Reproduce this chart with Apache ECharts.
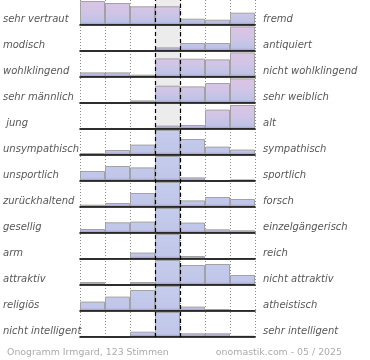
<!DOCTYPE html>
<html>
<head>
<meta charset="utf-8">
<style>html,body{margin:0;padding:0;background:#fff;}#c{width:370px;height:360px;}</style>
<script src="https://cdn.jsdelivr.net/npm/echarts@6/dist/echarts.min.js"></script>
</head>
<body>
<div id="c"></div>
<script>
const columns = ['1','2','3','4','5','6','7'];
const leftLabels = ['sehr vertraut','modisch','wohlklingend','sehr männlich',' jung','unsympathisch','unsportlich','zurückhaltend','gesellig','arm','attraktiv','religiös','nicht intelligent'];
const rightLabels = ['fremd','antiquiert','nicht wohlklingend','sehr weiblich','alt','sympathisch','sportlich','forsch','einzelgängerisch','reich','nicht attraktiv','atheistisch','sehr intelligent'];

const rowVertraut     = [24, 22, 18.7, 18.7, 6.3, 5.3, 12.3];
const rowModisch      = [0, 0, 0, 3.6, 8, 8, 24.6];
const rowWohlklingend = [4.6, 4.6, 2.3, 18.6, 18.3, 17.6, 24.6];
const rowMaennlich    = [0, 0, 2.6, 17.3, 16.6, 20, 24.6];
const rowJung         = [0, 0, 0, 3.4, 4, 19.4, 24];
const rowSympathisch  = [2, 5, 10.4, 25, 16, 8.4, 5.4];
const rowSportlich    = [10, 15, 13.6, 25, 3.6, 0, 1.6];
const rowForsch       = [2.3, 4, 14, 25, 6.6, 10, 8];
const rowGesellig     = [4, 10.7, 11.4, 25, 10.4, 3.7, 2.7];
const rowReich        = [0, 1, 6.4, 25, 3, 0, 1];
const rowAttraktiv    = [3, 0, 3, 25, 20, 21, 10];
const rowReligioes    = [9.4, 14.4, 21, 25, 4.4, 2, 1];
const rowIntelligent  = [0.8, 0, 5.3, 25, 3.7, 3.7, 1.3];

const rows = [rowVertraut,rowModisch,rowWohlklingend,rowMaennlich,rowJung,rowSympathisch,rowSportlich,rowForsch,rowGesellig,rowReich,rowAttraktiv,rowReligioes,rowIntelligent];

const footerLeft = 'Onogramm Irmgard, 123 Stimmen';
const footerRight = 'onomastik.com - 05 / 2025';

const chart = echarts.init(document.getElementById('c'), null, {renderer:'canvas'});
const PITCH = 26, H = 25, LEFT = 80, W = 175;
const grids = [], xAxes = [], yAxes = [], series = [];

// background grid
grids.push({left: LEFT, top: 0, width: W, height: 337});
xAxes.push({type:'value', gridIndex:0, min:0, max:7, interval:1,
  axisLine:{show:false}, axisTick:{show:false}, axisLabel:{show:false},
  splitLine:{show:true, lineStyle:{color:'#8c8c8c', type:[1,2], width:1}}});
yAxes.push({type:'value', gridIndex:0, min:0, max:1, show:false, splitLine:{show:false}});
series.push({type:'line', xAxisIndex:0, yAxisIndex:0, data:[], z:0, silent:true,
  markArea:{silent:true, itemStyle:{color:'#ececec'}, data:[[{xAxis:3},{xAxis:4}]]}});
series.push({type:'line', xAxisIndex:0, yAxisIndex:0, data:[], z:20, silent:true,
  markLine:{silent:true, symbol:['none','none'], label:{show:false},
    lineStyle:{color:'#000', type:[4,3], width:1.2}, data:[{xAxis:3},{xAxis:4}]}});

// label grid
grids.push({left: LEFT, top: 6, width: W, height: 338});
xAxes.push({type:'value', gridIndex:1, show:false, min:0, max:1});
const labelStyle = {fontFamily:'DejaVu Sans', fontStyle:'italic', fontSize:10, color:'#575757'};
yAxes.push({type:'category', gridIndex:1, data:leftLabels, inverse:true, position:'left',
  axisLine:{show:false}, axisTick:{show:false}, splitLine:{show:false},
  axisLabel:Object.assign({align:'left', margin:80}, labelStyle)});
yAxes.push({type:'category', gridIndex:1, data:rightLabels, inverse:true, position:'right',
  axisLine:{show:false}, axisTick:{show:false}, splitLine:{show:false},
  axisLabel:Object.assign({align:'left', margin:8}, labelStyle)});

rows.forEach((vals, i) => {
  const gi = grids.length;
  const xi = xAxes.length;
  const yi = yAxes.length;
  const top = PITCH * i;
  grids.push({left: LEFT, top: top, width: W, height: H});
  xAxes.push({type:'category', gridIndex:gi, data:columns, z:5,
    axisLine:{show:true, onZero:false, lineStyle:{color:'#000', width:1.6}},
    axisTick:{show:false}, axisLabel:{show:false}, splitLine:{show:false}});
  yAxes.push({type:'value', gridIndex:gi, min:0, max:H, show:false, splitLine:{show:false}});
  const pink = i < 5;
  const stops = pink
    ? [{offset:0,color:'#dec3e4'},{offset:0.5,color:'#d0c5e6'},{offset:0.88,color:'#bcc3e7'},{offset:0.94,color:'#b0a8da'},{offset:1,color:'#9f8fcb'}]
    : [{offset:0,color:'#c5ccec'},{offset:0.88,color:'#bfc6e8'},{offset:0.94,color:'#b0a8da'},{offset:1,color:'#9f8fcb'}];
  const grad = new echarts.graphic.LinearGradient(0, top, 0, top + H, stops, true);
  series.push({type:'bar', xAxisIndex:xi, yAxisIndex:yi, data:vals, barCategoryGap:'0%', z:2, silent:true,
    itemStyle:{color:grad, borderColor:'#a2a2a2', borderWidth:1}});
});

chart.setOption({
  animation:false,
  backgroundColor:'#fff',
  title:[
    {text:footerLeft, left:2, top:343, textStyle:{fontFamily:'DejaVu Sans', fontSize:9.4, fontWeight:'normal', color:'#ababab'}},
    {text:footerRight, right:23, top:343, textStyle:{fontFamily:'DejaVu Sans', fontSize:9.4, fontWeight:'normal', color:'#ababab'}}
  ],
  grid:grids, xAxis:xAxes, yAxis:yAxes, series:series
});
</script>
</body>
</html>
